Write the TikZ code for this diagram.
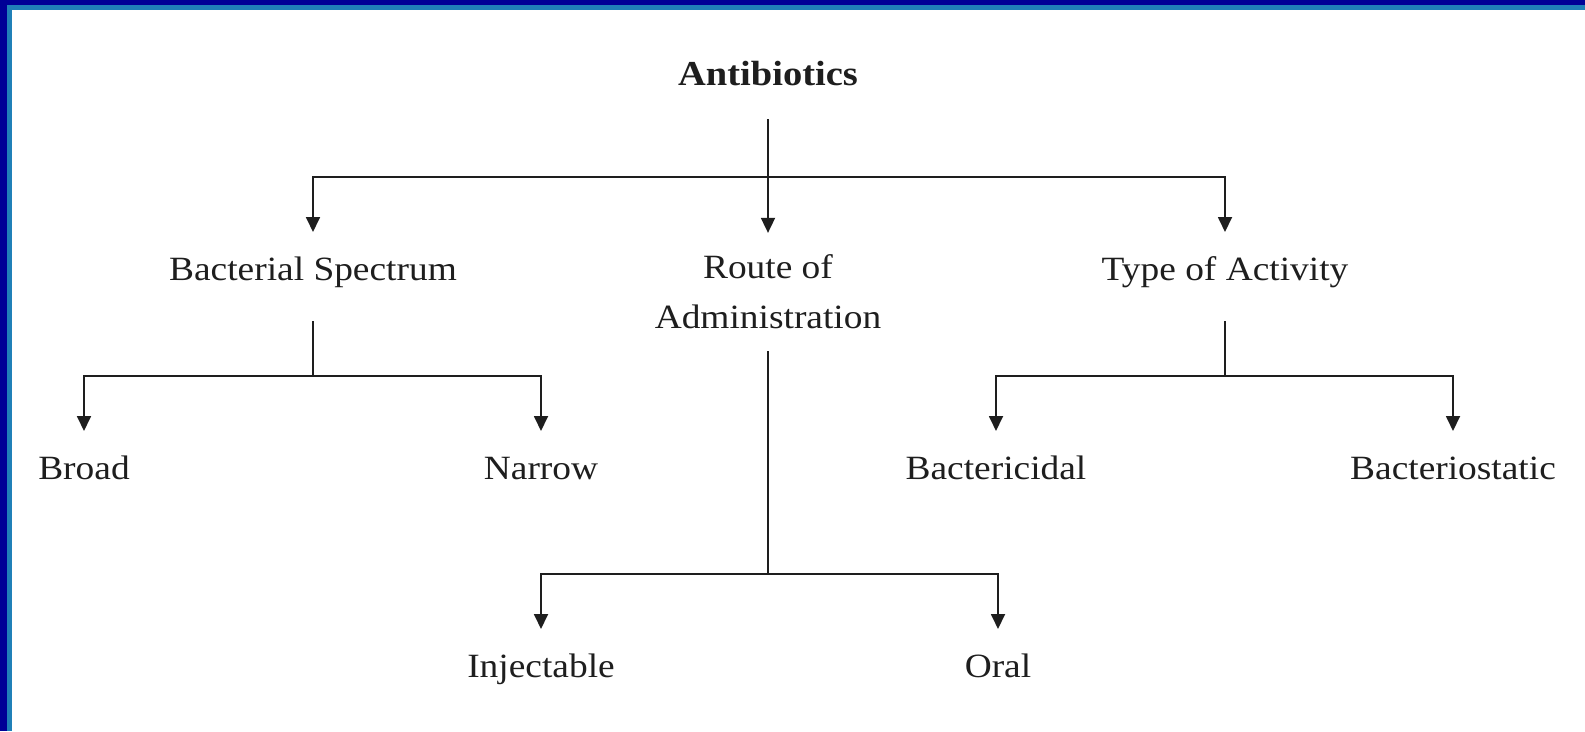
\documentclass[tikz,border=0pt]{standalone}
\usepackage{fontspec}
\setmainfont[FakeStretch=1.1]{Liberation Serif}
\usetikzlibrary{arrows.meta}

\definecolor{frameblue}{RGB}{0,0,150}
\definecolor{stripblue}{RGB}{32,128,184}
\definecolor{inkgray}{RGB}{30,30,30}

\tikzset{
  lbl/.style={inner sep=0pt, outer ysep=24pt, text height=24pt, text depth=8pt,
    text=inkgray, font=\fontsize{34}{50}\selectfont},
  line/.style={draw=inkgray, line width=1.8pt},
  stem/.style={line, shorten <=9pt},
  tip/.style={line, -{Triangle[width=14pt,length=15pt]}}
}

\begin{document}
\begin{tikzpicture}[x=1pt, y=-1pt]
	\useasboundingbox (0,0) rectangle (1585,731);
	% frame
	\fill[white] (0,0) rectangle (1585,731);
	\fill[frameblue] (0,0) rectangle (1585,5);
	\fill[frameblue] (0,0) rectangle (7,731);
	\fill[stripblue] (7,5) rectangle (1585,10);
	\fill[stripblue] (7,5) rectangle (12,731);

	% nodes
	\node[lbl, font=\bfseries\fontsize{35}{50}\selectfont] (root) at (768,77) {Antibiotics};
	\node[lbl] (spec) at (313,272) {Bacterial Spectrum};
	\node[lbl, text height=, text depth=, align=center, outer ysep=22pt] (route) at (768,292) {Route of\\Administration};
	\node[lbl] (act) at (1225,272) {Type of Activity};
	\node[lbl] (broad) at (84,471) {Broad};
	\node[lbl] (narrow) at (541,471) {Narrow};
	\node[lbl] (inj) at (541,669) {Injectable};
	\node[lbl] (oral) at (998,669) {Oral};
	\node[lbl] (bcidal) at (996,471) {Bactericidal};
	\node[lbl] (bstatic) at (1453,471) {Bacteriostatic};

	% branch points
	\coordinate (rootbar) at (768,177);
	\coordinate (specbar) at (313,376);
	\coordinate (routebar) at (768,574);
	\coordinate (actbar) at (1225,376);

	% connectors
	\draw[stem, shorten <=2pt] (root) -- (rootbar);
	\draw[tip] (rootbar) -| (spec);
	\draw[tip] (rootbar) -- (route);
	\draw[tip] (rootbar) -| (act);

	\draw[stem] (spec) -- (specbar);
	\draw[tip] (specbar) -| (broad);
	\draw[tip] (specbar) -| (narrow);

	\draw[stem, shorten <=0pt] (route) -- (routebar);
	\draw[tip] (routebar) -| (inj);
	\draw[tip] (routebar) -| (oral);

	\draw[stem] (act) -- (actbar);
	\draw[tip] (actbar) -| (bcidal);
	\draw[tip] (actbar) -| (bstatic);
\end{tikzpicture}
\end{document}
